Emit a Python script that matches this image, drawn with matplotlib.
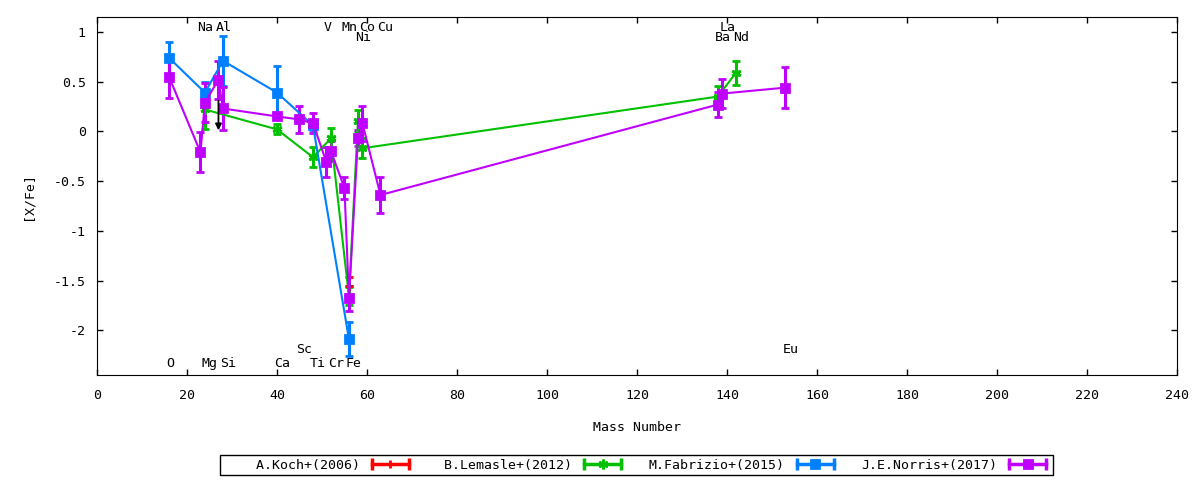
import matplotlib
matplotlib.use('Agg')
import matplotlib.pyplot as plt
from matplotlib.lines import Line2D
from matplotlib.legend_handler import HandlerLine2D, HandlerTuple

plt.rcParams['font.family'] = ['DejaVu Sans Mono']
plt.rcParams['font.size'] = 9.5

# mass number used for each element
mass = {'O': 16, 'Na': 23, 'Mg': 24, 'Al': 27, 'Si': 28, 'Ca': 40, 'Sc': 45,
        'Ti': 48, 'V': 51, 'Cr': 52, 'Mn': 55, 'Fe': 56, 'Ni': 58, 'Co': 59,
        'Cu': 63, 'Ba': 138, 'La': 139, 'Nd': 142, 'Eu': 153}

# A.Koch+(2006)
koch_el = ['Fe']
koch_val = [-1.55]
koch_err = [0.09]

# B.Lemasle+(2012)
lemasle_el = ['Mg', 'Ca', 'Ti', 'Cr', 'Fe', 'Ni', 'Co', 'Ba', 'Nd']
lemasle_val = [0.22, 0.02, -0.26, -0.07, -1.66, 0.10, -0.17, 0.35, 0.59]
lemasle_err = [0.20, 0.05, 0.10, 0.10, 0.09, 0.11, 0.10, 0.11, 0.12]

# M.Fabrizio+(2015)
fabrizio_el = ['O', 'Mg', 'Si', 'Ca', 'Ti', 'Fe']
fabrizio_val = [0.74, 0.39, 0.71, 0.39, 0.06, -2.09]
fabrizio_err = [0.16, 0.11, 0.25, 0.27, 0.05, 0.17]

# J.E.Norris+(2017)
norris_el = ['O', 'Na', 'Mg', 'Al', 'Si', 'Ca', 'Sc', 'Ti', 'V', 'Cr', 'Mn',
             'Fe', 'Ni', 'Co', 'Cu', 'Ba', 'La', 'Eu']
norris_val = [0.55, -0.21, 0.29, 0.52, 0.23, 0.15, 0.12, 0.08, -0.31, -0.20,
              -0.57, -1.68, -0.07, 0.08, -0.64, 0.27, 0.38, 0.44]
norris_err = [0.21, 0.20, 0.20, 0.19, 0.22, 0.03, 0.14, 0.10, 0.15, 0.10,
              0.11, 0.13, 0.08, 0.18, 0.18, 0.13, 0.15, 0.21]

# upper limit (arrow)
limit_el = ['Al']
limit_val = [0.31]

# element name rows (label y positions)
label_rows = {1.045: ['Na', 'Al', 'V', 'Mn', 'Co', 'Cu', 'La'],
              0.945: ['Ni', 'Ba', 'Nd'],
              -2.19: ['Sc', 'Eu'],
              -2.33: ['O', 'Mg', 'Si', 'Ca', 'Ti', 'Cr', 'Fe']}

labels = ['A.Koch+(2006)', 'B.Lemasle+(2012)', 'M.Fabrizio+(2015)', 'J.E.Norris+(2017)']
colors = ['#ff0000', '#00c000', '#0080ff', '#c000ff']
markers = ['+', (6, 2, 0), 's', 's']
msizes = [6, 7, 6, 6]

fig = plt.figure(figsize=(12, 4.8), dpi=100)
ax = fig.add_axes([0.0808, 0.21875, 0.9, 0.74583])

series = [(koch_el, koch_val, koch_err, False),
          (lemasle_el, lemasle_val, lemasle_err, True),
          (fabrizio_el, fabrizio_val, fabrizio_err, True),
          (norris_el, norris_val, norris_err, True)]

handles = []
hmap = {}
for (el, val, err, joined), lab, c, m, ms in zip(series, labels, colors, markers, msizes):
    xs = [mass[e] for e in el]
    ax.errorbar(xs, val, yerr=err, color=c, lw=1.5 if joined else 0,
                marker=m, ms=ms, mew=2, elinewidth=2.2, capsize=3, capthick=2.5)
    caps = Line2D([], [], color=c, lw=2.5, marker='|', ms=8, mew=2.5)
    mid = Line2D([], [], color=c, lw=0, marker=m, ms=ms, mew=2)
    hmap[caps] = HandlerLine2D(numpoints=2)
    handles.append((caps, mid))

for e, v in zip(limit_el, limit_val):
    ax.annotate('', xy=(mass[e], v - 0.3), xytext=(mass[e], v),
                arrowprops=dict(arrowstyle='-|>', color='black', lw=1.3,
                                mutation_scale=9, shrinkA=0, shrinkB=0))

for y, names in label_rows.items():
    for n in names:
        ax.text(mass[n] - 0.7, y, n, ha='left', va='center')

ax.set_xlim(0, 240)
ax.set_ylim(-2.45, 1.15)
ax.set_xticks(range(0, 241, 20))
ax.set_yticks([-2, -1.5, -1, -0.5, 0, 0.5, 1])
ax.set_yticklabels(['-2', '-1.5', '-1', '-0.5', '0', '0.5', '1'])
ax.tick_params(direction='in', top=True, right=True, length=4, width=1)
ax.tick_params(axis='x', pad=10)
ax.tick_params(axis='y', pad=8)
ax.set_xlabel('Mass Number', labelpad=14)
ax.set_ylabel('[X/Fe]', labelpad=14)

# right-justify legend texts like gnuplot does
w = max(len(s) for s in labels)
leg_labels = [s.rjust(w) for s in labels]
fig.legend(handles, leg_labels, handler_map={**hmap, tuple: HandlerTuple(ndivide=1)},
           loc='center', bbox_to_anchor=(0.5308, 0.031), ncol=4, markerfirst=False,
           frameon=True, fancybox=False, edgecolor='black', framealpha=1,
           handlelength=3.4, handletextpad=0.6, columnspacing=1.8, borderpad=0.25)

fig.savefig('out.png', dpi=100)
